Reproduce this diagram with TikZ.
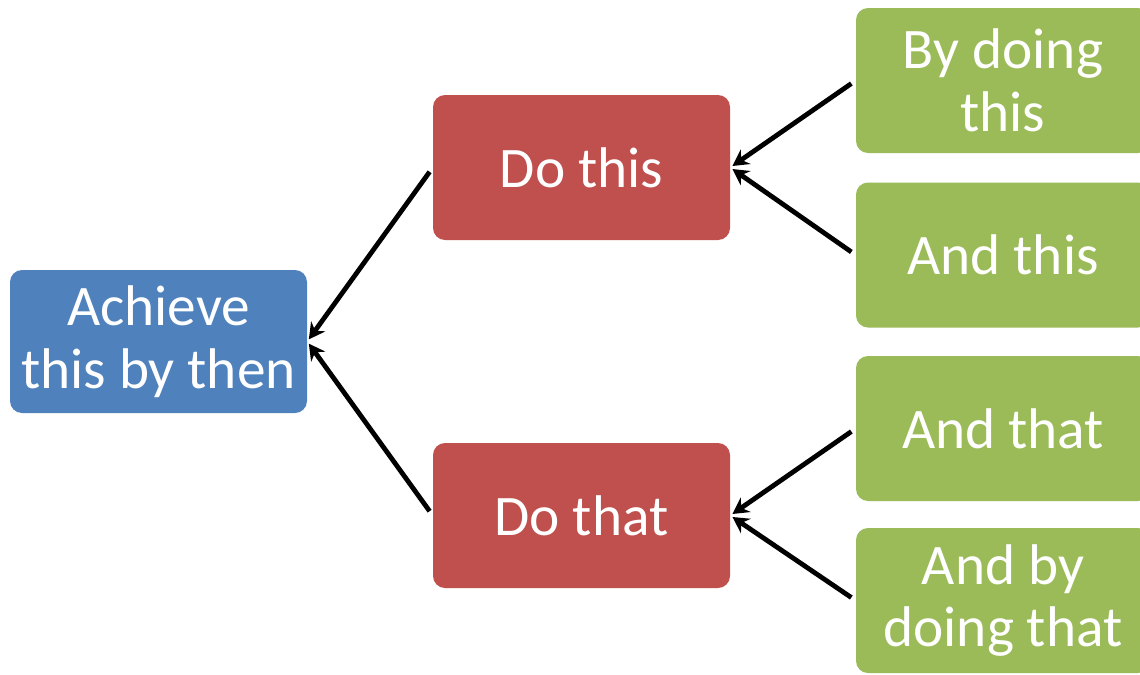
\documentclass[tikz,border=0pt]{standalone}
\usepackage{fontspec}
\setmainfont{Carlito}
\usetikzlibrary{arrows.meta}
\definecolor{goalblue}{HTML}{4F81BD}
\definecolor{taskred}{HTML}{C0504D}
\definecolor{stepgreen}{HTML}{9BBB59}
\begin{document}
\begin{tikzpicture}[x=0.75pt,y=-0.75pt,
  box/.style={rounded corners=9pt, text=white, align=center,
    font=\fontsize{43}{47}\selectfont, inner sep=0pt,
    minimum width=297*0.75pt, minimum height=145*0.75pt},
  goalbox/.style={box, fill=goalblue, minimum height=143*0.75pt},
  taskbox/.style={box, fill=taskred},
  stepbox/.style={box, fill=stepgreen, minimum width=294*0.75pt},
  link/.style={line width=3.6pt, -{Stealth[length=12pt,width=13pt,inset=4pt]},
    shorten <=4pt, shorten >=2pt}]
\useasboundingbox (0,0) rectangle (1140,675);
\fill[white] (0,0) rectangle (1140,675);
% goal, tasks and steps
\node[goalbox] (goal) at (158.5,341.5) {Achieve\\this by then};
\node[taskbox] (t1) at (581.5,167.5) {Do this};
\node[taskbox] (t2) at (581.5,515.5) {Do that};
\node[stepbox] (s1) at (1003,80.5) {By doing\\this};
\node[stepbox] (s2) at (1003,255) {And this};
\node[stepbox] (s3) at (1003,428.5) {And that};
\node[stepbox] (s4) at (1003,600.5) {And by\\doing that};
% links point from each part to the aim it serves
\draw[link] (t1.west) -- (goal.east);
\draw[link] (t2.west) -- (goal.east);
\draw[link] (s1.west) -- (t1.east);
\draw[link] (s2.west) -- (t1.east);
\draw[link] (s3.west) -- (t2.east);
\draw[link] (s4.west) -- (t2.east);
\end{tikzpicture}
\end{document}
